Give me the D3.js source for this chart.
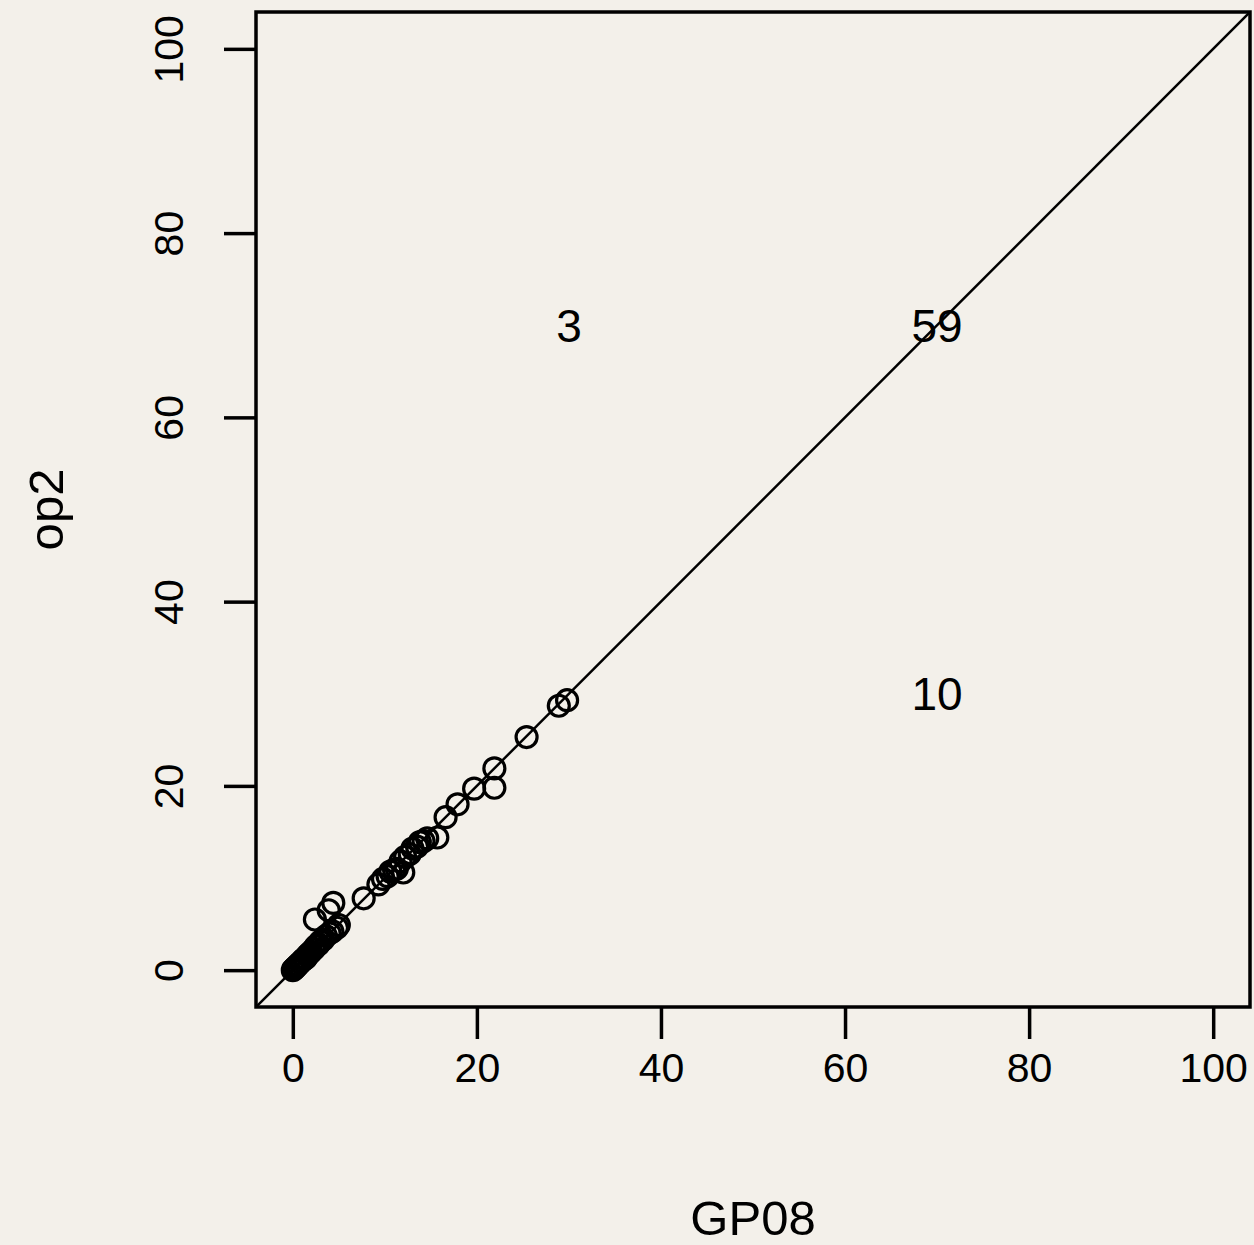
<!DOCTYPE html>
<html>
<head>
<meta charset="utf-8">
<script src="https://cdn.jsdelivr.net/npm/d3@7"></script>
<style>
body { margin: 0; background: #f3f0ea; }
text { font-family: "Liberation Sans", Arial, Helvetica, sans-serif; fill: #000; }
</style>
</head>
<body>
<div id="chart"></div>
<script>
// GP08 vs op2 values
let gp08 = [0, 0.1, 0.2, 0.3, 0.4, 0.6, 0.8, 1.0, 1.2, 1.4, 1.6, 1.8, 2.0, 2.3, 2.5, 2.8, 3.0, 3.3, 3.6, 4.0, 4.3, 4.8,
    2.4, 3.9, 4.4, 5.0, 7.7,
    9.3, 9.8, 10.3, 10.6, 11.0, 11.3, 12.0, 11.7, 12.2, 12.7, 13.0, 13.5, 13.8, 14.2, 14.6, 15.7,
    16.6, 17.9, 19.7, 21.9, 21.9, 25.4, 28.9, 29.8];
let op2 = [0, 0.1, 0.2, 0.3, 0.4, 0.6, 0.8, 1.0, 1.2, 1.3, 1.6, 1.8, 2.0, 2.3, 2.6, 2.8, 3.1, 3.3, 3.7, 4.0, 4.2, 4.6,
    5.5, 6.5, 7.3, 4.9, 7.8,
    9.3, 9.9, 10.2, 10.7, 10.9, 11.0, 10.6, 11.8, 12.3, 12.6, 13.2, 13.4, 13.9, 14.0, 14.3, 14.4,
    16.6, 18.0, 19.7, 19.8, 21.9, 25.3, 28.7, 29.3];
let ticks = [0, 20, 40, 60, 80, 100];
let counts = [{x: 30, y: 70, label: "3"}, {x: 70, y: 70, label: "59"}, {x: 70, y: 30, label: "10"}];

let W = 1254, H = 1245;
let box = {left: 256, right: 1250, top: 12, bottom: 1007};

let svg = d3.select("#chart").append("svg")
    .attr("width", W)
    .attr("height", H);

svg.append("rect").attr("width", W).attr("height", H).attr("fill", "#f3f0ea");

let x = d3.scaleLinear().domain([-4, 104]).range([box.left, box.right]);
let y = d3.scaleLinear().domain([-4, 104]).range([box.bottom, box.top]);

svg.append("clipPath").attr("id", "clip")
    .append("rect")
    .attr("x", box.left).attr("y", box.top)
    .attr("width", box.right - box.left).attr("height", box.bottom - box.top);

// y = x reference line
svg.append("line")
    .attr("clip-path", "url(#clip)")
    .attr("x1", x(-4)).attr("y1", y(-4))
    .attr("x2", x(104)).attr("y2", y(104))
    .attr("stroke", "#000")
    .attr("stroke-width", 2.5);

let pts = gp08.map((d, i) => ({gx: d, oy: op2[i]}));

svg.append("g").selectAll("circle")
    .data(pts)
    .enter()
    .append("circle")
    .attr("cx", d => x(d.gx))
    .attr("cy", d => y(d.oy))
    .attr("r", 10.5)
    .attr("fill", "none")
    .attr("stroke", "#000")
    .attr("stroke-width", 3.2);

// box
svg.append("rect")
    .attr("x", box.left).attr("y", box.top)
    .attr("width", box.right - box.left).attr("height", box.bottom - box.top)
    .attr("fill", "none")
    .attr("stroke", "#000")
    .attr("stroke-width", 3.5);

// axes, R style with outside ticks
let xAxis = d3.axisBottom(x).tickValues(ticks).tickSize(32).tickPadding(14);
let gx = svg.append("g")
    .attr("transform", "translate(0," + box.bottom + ")")
    .call(xAxis);
gx.select(".domain").remove();
gx.selectAll(".tick line").attr("stroke", "#000").attr("stroke-width", 3.5);
gx.selectAll(".tick text")
    .attr("font-size", 41)
    .attr("font-family", "Liberation Sans, Arial, sans-serif")
    .attr("fill", "#000");

let yAxis = d3.axisLeft(y).tickValues(ticks).tickSize(32).tickPadding(0);
let gy = svg.append("g")
    .attr("transform", "translate(" + box.left + ",0)")
    .call(yAxis);
gy.select(".domain").remove();
gy.selectAll(".tick line").attr("stroke", "#000").attr("stroke-width", 3.5);
gy.selectAll(".tick text")
    .attr("x", 0).attr("y", 0).attr("dy", null)
    .attr("transform", "translate(-73,0) rotate(-90)")
    .attr("text-anchor", "middle")
    .attr("font-size", 41)
    .attr("font-family", "Liberation Sans, Arial, sans-serif")
    .attr("fill", "#000");

// axis titles
svg.append("text")
    .attr("x", (box.left + box.right) / 2)
    .attr("y", 1235)
    .attr("text-anchor", "middle")
    .attr("font-size", 49)
    .text("GP08");

svg.append("text")
    .attr("transform", "translate(63," + (box.top + box.bottom) / 2 + ") rotate(-90)")
    .attr("text-anchor", "middle")
    .attr("font-size", 49)
    .text("op2");

// counts
svg.append("g").selectAll("text")
    .data(counts)
    .enter()
    .append("text")
    .attr("x", d => x(d.x))
    .attr("y", d => y(d.y))
    .attr("dy", "0.36em")
    .attr("text-anchor", "middle")
    .attr("font-size", 46)
    .text(d => d.label);
</script>
</body>
</html>
